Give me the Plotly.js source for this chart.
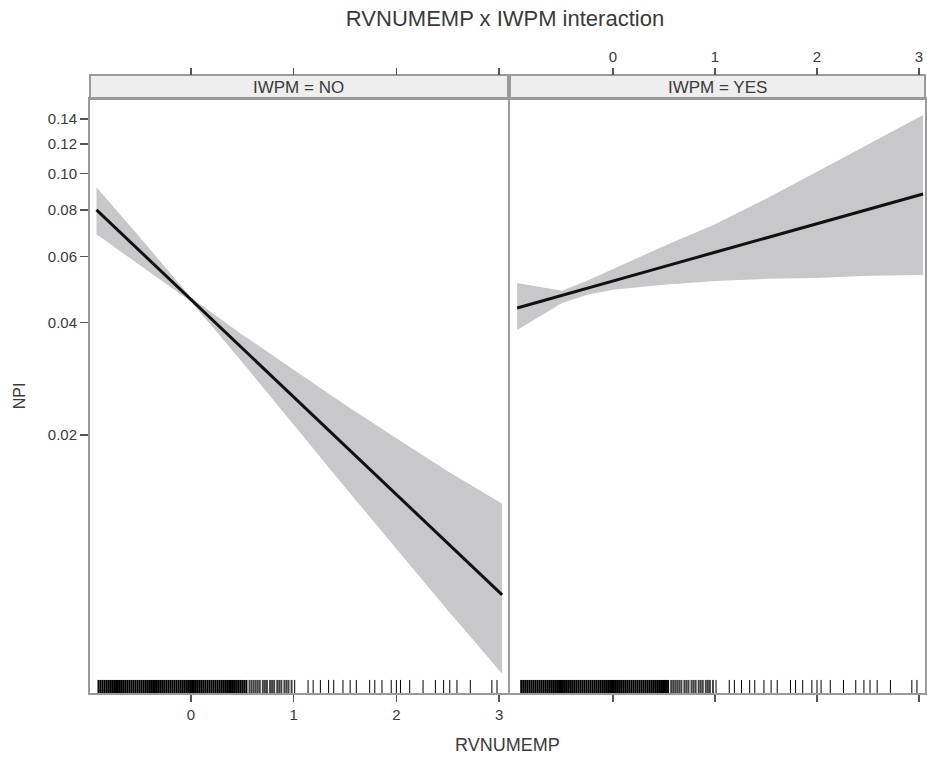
<!DOCTYPE html>
<html>
<head>
<meta charset="utf-8">
<script src="https://cdn.plot.ly/plotly-3.0.1.min.js"></script>
<style>html,body{margin:0;padding:0;background:#fff;}#chart{width:927px;height:757px;}</style>
</head>
<body>
<div id="chart"></div>
<script>
// ---- data ----
const panelLabels = ['IWPM = NO', 'IWPM = YES'];
const yTickVals = [0.02, 0.04, 0.06, 0.08, 0.10, 0.12, 0.14];
const yTickText = ['0.02', '0.04', '0.06', '0.08', '0.10', '0.12', '0.14'];
const xTickVals = [0, 1, 2, 3];

// IWPM = NO
const xNo     = [-0.92, -0.5, 0, 0.5, 1, 1.5, 2, 2.5, 3.03];
const fitNo   = [0.0800, 0.0622, 0.0461, 0.0341, 0.0253, 0.0187, 0.0139, 0.0103, 0.00747];
const upperNo = [0.0920, 0.0677, 0.0466, 0.0371, 0.0299, 0.0241, 0.0196, 0.0160, 0.0131];
const lowerNo = [0.0688, 0.0571, 0.0455, 0.0313, 0.0213, 0.0145, 0.00990, 0.00680, 0.00460];

// IWPM = YES
const xYes     = [-0.94, -0.5, -0.25, 0, 0.5, 1, 1.5, 2, 2.5, 3.04];
const fitYes   = [0.0437, 0.0473, 0.0494, 0.0516, 0.0564, 0.0616, 0.0672, 0.0734, 0.0802, 0.0882];
const upperYes = [0.0510, 0.0486, 0.0518, 0.0556, 0.0640, 0.0732, 0.0857, 0.1012, 0.1200, 0.1435];
const lowerYes = [0.0382, 0.0451, 0.0474, 0.0489, 0.0504, 0.0516, 0.0523, 0.0526, 0.0533, 0.0536];

// rug of observed RVNUMEMP values
const rugValues = [-0.90,-0.88,-0.86,-0.84,-0.82,-0.80,-0.78,-0.76,-0.74,-0.72,-0.70,-0.68,-0.66,-0.64,-0.62,-0.60,
  -0.58,-0.56,-0.54,-0.52,-0.50,-0.48,-0.46,-0.44,-0.42,-0.40,-0.38,-0.36,-0.34,-0.32,-0.30,-0.28,-0.26,-0.24,
  -0.22,-0.20,-0.18,-0.16,-0.14,-0.12,-0.10,-0.08,-0.06,-0.04,-0.02,0.00,0.02,0.04,0.06,0.08,0.10,0.12,0.14,
  0.16,0.18,0.20,0.22,0.24,0.26,0.28,0.30,0.32,0.34,0.36,0.38,0.40,0.42,0.44,0.46,0.48,0.50,0.52,0.54,
  0.57,0.59,0.61,0.63,0.65,0.67,0.70,0.72,0.74,0.77,0.79,0.81,0.84,0.86,0.88,0.91,0.93,0.95,0.98,
  1.01,1.14,1.19,1.26,1.34,1.39,1.48,1.55,1.61,1.74,1.79,1.86,1.95,2.00,2.04,2.13,2.26,2.38,2.46,2.52,2.59,
  2.72,2.93,2.98];

// ---- drawing ----
const W = 927, H = 757;
const FONT = 'Liberation Sans, Arial, Helvetica, sans-serif';
const TXT = '#3a3a3a';
const BORDER = '#9a9a9a';
const BAND = '#c8c8ca';

const leftDom  = [90 / W, 508 / W];
const rightDom = [510 / W, 925 / W];
const yDom = [(H - 693) / H, (H - 99) / H];
const stripTop = (H - 75) / H;
const stripBot = (H - 99) / H;
const yRange = [-2.389, -0.8005];
const xRangeL = [-0.983, 3.087];
const xRangeR = [-1.01, 3.059];

function band(xs, up, lo, xa, ya) {
  return {
    type: 'scatter', mode: 'lines', xaxis: xa, yaxis: ya,
    x: xs.concat(xs.slice().reverse()),
    y: up.concat(lo.slice().reverse()),
    fill: 'toself', fillcolor: BAND, line: {width: 0, color: BAND},
    hoverinfo: 'skip'
  };
}
function fit(xs, ys, xa, ya) {
  return {type: 'scatter', mode: 'lines', xaxis: xa, yaxis: ya, x: xs, y: ys,
    line: {color: '#111', width: 3}};
}
const traces = [
  band(xNo, upperNo, lowerNo, 'x', 'y'),
  fit(xNo, fitNo, 'x', 'y'),
  band(xYes, upperYes, lowerYes, 'x2', 'y2'),
  fit(xYes, fitYes, 'x2', 'y2'),
  {type: 'scatter', mode: 'markers', xaxis: 'x3', yaxis: 'y', x: [xNo[0]], y: [fitNo[0]], marker: {opacity: 0}, hoverinfo: 'skip'},
  {type: 'scatter', mode: 'markers', xaxis: 'x4', yaxis: 'y2', x: [xYes[0]], y: [fitYes[0]], marker: {opacity: 0}, hoverinfo: 'skip'}
];

const shapes = [];
['x', 'x2'].forEach(function (xa) {
  rugValues.forEach(function (v) {
    shapes.push({type: 'line', xref: xa, yref: (xa === 'x' ? 'y' : 'y2') + ' domain',
      x0: v, x1: v, y0: 0, y1: 0.022,
      line: {color: v < 0.56 ? '#000' : (v < 1 ? '#444' : '#000'), width: v < 1 ? 2 : 1}});
  });
});
[leftDom, rightDom].forEach(function (d) {
  shapes.push({type: 'rect', xref: 'paper', yref: 'paper', x0: d[0], x1: d[1], y0: stripBot, y1: stripTop,
    fillcolor: '#eeeeee', line: {color: BORDER, width: 2}, layer: 'below'});
});

const tickFont = {family: FONT, size: 15, color: TXT};
const baseX = {
  tickvals: xTickVals, ticks: 'outside', ticklen: 7, tickwidth: 1.5, tickcolor: '#555',
  showgrid: false, zeroline: false, showline: true, linecolor: BORDER, linewidth: 2, mirror: true,
  tickfont: tickFont
};
const layout = {
  width: W, height: H,
  margin: {l: 0, r: 0, t: 0, b: 0},
  paper_bgcolor: '#fff', plot_bgcolor: '#fff',
  showlegend: false,
  font: {family: FONT, color: TXT},
  title: {text: 'RVNUMEMP x IWPM interaction', font: {family: FONT, size: 22, color: TXT},
    x: 505 / W, xanchor: 'center', y: 1 - 18 / H, yanchor: 'middle', yref: 'container'},
  xaxis: Object.assign({}, baseX, {domain: leftDom, range: xRangeL, anchor: 'y'}),
  xaxis2: Object.assign({}, baseX, {domain: rightDom, range: xRangeR, anchor: 'y2', showticklabels: false}),
  xaxis3: Object.assign({}, baseX, {overlaying: 'x', range: xRangeL, side: 'top', anchor: 'free',
    position: stripTop, showticklabels: false, showline: false, mirror: false}),
  xaxis4: Object.assign({}, baseX, {overlaying: 'x2', range: xRangeR, side: 'top', anchor: 'free',
    position: stripTop, showline: false, mirror: false}),
  yaxis: {
    domain: yDom, type: 'log', range: yRange, anchor: 'x',
    tickvals: yTickVals, ticktext: yTickText, ticks: 'outside', ticklen: 8, tickwidth: 1.5, tickcolor: '#555',
    showgrid: false, zeroline: false, showline: true, linecolor: BORDER, linewidth: 2, mirror: true,
    tickfont: tickFont,
    title: {text: 'NPI', font: {family: FONT, size: 16, color: TXT}, standoff: 18}
  },
  yaxis2: {
    domain: yDom, type: 'log', range: yRange, anchor: 'x2',
    tickvals: yTickVals, showticklabels: false, ticks: '',
    showgrid: false, zeroline: false, showline: true, linecolor: BORDER, linewidth: 2, mirror: true
  },
  shapes: shapes,
  annotations: [
    {text: panelLabels[0], xref: 'paper', yref: 'paper', x: (leftDom[0] + leftDom[1]) / 2,
      y: (stripTop + stripBot) / 2, xanchor: 'center', yanchor: 'middle', showarrow: false,
      font: {family: FONT, size: 17, color: TXT}},
    {text: panelLabels[1], xref: 'paper', yref: 'paper', x: (rightDom[0] + rightDom[1]) / 2,
      y: (stripTop + stripBot) / 2, xanchor: 'center', yanchor: 'middle', showarrow: false,
      font: {family: FONT, size: 17, color: TXT}},
    {text: 'RVNUMEMP', xref: 'paper', yref: 'paper', x: 508 / W, y: 1 - 745 / H,
      xanchor: 'center', yanchor: 'middle', showarrow: false,
      font: {family: FONT, size: 18, color: TXT}}
  ]
};
Plotly.newPlot('chart', traces, layout, {staticPlot: true, displayModeBar: false});
</script>
</body>
</html>
